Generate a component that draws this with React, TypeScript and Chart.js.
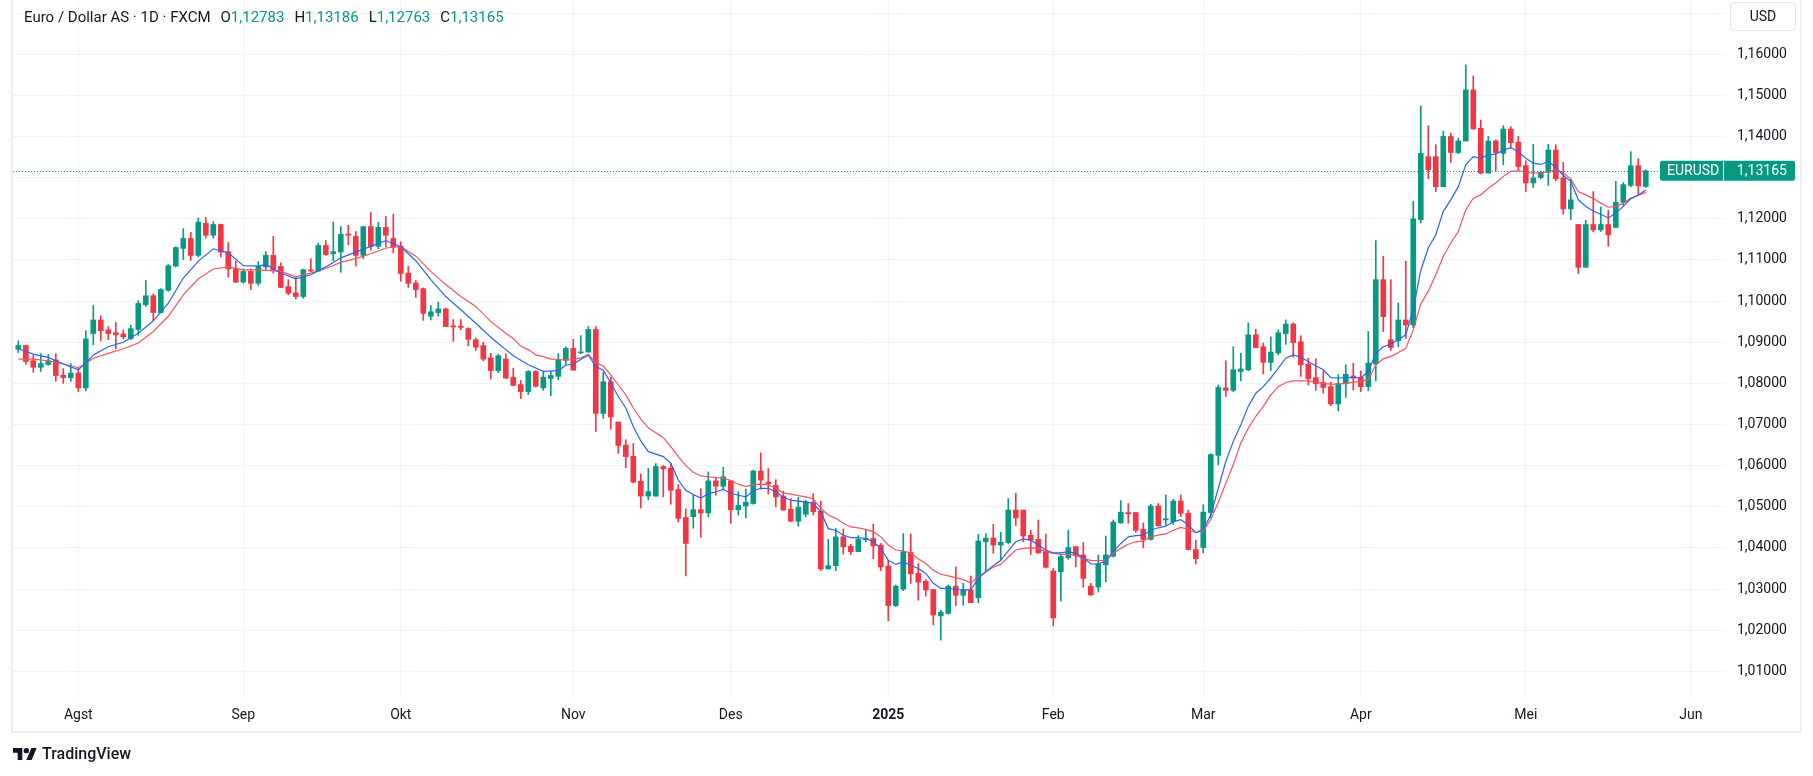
import React, { useEffect, useRef } from "react";
import { Chart, registerables } from "chart.js";

Chart.register(...registerables);

// ---- Data (daily candles, 22 Jul 2024 .. 23 May 2025, index 0..217) ----
const opens = [
  1.0883,1.0892,1.0855,1.0839,1.0846,1.0857,1.0820,1.0814,1.0825,1.0789,
  1.0921,1.0954,1.0930,1.0923,1.0920,1.0909,1.0931,1.0991,1.1013,1.0972,
  1.1026,1.1085,1.1128,1.1152,1.1111,1.1189,1.1160,1.1186,1.1120,1.1078,
  1.1046,1.1072,1.1043,1.1083,1.1111,1.1084,1.1035,1.1020,1.1011,1.1076,
  1.1073,1.1135,1.1115,1.1119,1.1163,1.1157,1.1111,1.1181,1.1133,1.1179,
  1.1152,1.1133,1.1068,1.1044,1.1030,1.0963,1.0972,1.0981,1.0940,1.0939,
  1.0933,1.0906,1.0892,1.0862,1.0831,1.0859,1.0815,1.0797,1.0780,1.0829,
  1.0789,1.0812,1.0817,1.0856,1.0885,1.0874,1.0876,1.0931,1.0727,1.0804,
  1.0706,1.0650,1.0623,1.0562,1.0526,1.0526,1.0598,1.0594,1.0542,1.0474,
  1.0476,1.0493,1.0485,1.0563,1.0550,1.0563,1.0493,1.0502,1.0508,1.0587,
  1.0560,1.0552,1.0526,1.0494,1.0465,1.0482,1.0511,1.0489,1.0349,1.0357,
  1.0427,1.0404,1.0391,1.0420,1.0423,1.0407,1.0356,1.0260,1.0300,1.0389,
  1.0338,1.0319,1.0299,1.0235,1.0241,1.0307,1.0285,1.0298,1.0279,1.0415,
  1.0424,1.0407,1.0413,1.0492,1.0492,1.0431,1.0421,1.0391,1.0344,1.0342,
  1.0376,1.0403,1.0383,1.0307,1.0305,1.0359,1.0380,1.0461,1.0486,1.0486,
  1.0445,1.0421,1.0502,1.0468,1.0464,1.0514,1.0484,1.0396,1.0401,1.0486,
  1.0625,1.0789,1.0783,1.0829,1.0833,1.0918,1.0889,1.0851,1.0874,1.0921,
  1.0944,1.0901,1.0847,1.0814,1.0802,1.0792,1.0750,1.0799,1.0818,1.0815,
  1.0792,1.0847,1.1052,1.0906,1.0904,1.0954,1.0942,1.1198,1.1351,1.1351,
  1.1278,1.1400,1.1361,1.1389,1.1513,1.1420,1.1311,1.1389,1.1359,1.1418,
  1.1386,1.1329,1.1287,1.1300,1.1313,1.1367,1.1299,1.1224,1.1186,1.1082,
  1.1186,1.1173,1.1186,1.1179,1.1240,1.1281,1.1329,1.12783,
];
const highs = [
  1.0903,1.0893,1.0868,1.0872,1.0870,1.0872,1.0836,1.0848,1.0836,1.0928,
  1.0989,1.0964,1.0938,1.0948,1.0930,1.0941,1.1001,1.1050,1.1017,1.1030,
  1.1089,1.1132,1.1176,1.1167,1.1202,1.1203,1.1193,1.1187,1.1142,1.1097,
  1.1078,1.1078,1.1096,1.1120,1.1157,1.1093,1.1052,1.1058,1.1077,1.1103,
  1.1141,1.1147,1.1192,1.1181,1.1184,1.1169,1.1181,1.1215,1.1191,1.1206,
  1.1211,1.1144,1.1084,1.1050,1.1032,1.0989,1.0998,1.0983,1.0955,1.0955,
  1.0935,1.0910,1.0900,1.0873,1.0871,1.0872,1.0837,1.0807,1.0831,1.0831,
  1.0829,1.0829,1.0872,1.0889,1.0907,1.0916,1.0938,1.0938,1.0827,1.0815,
  1.0706,1.0663,1.0654,1.0580,1.0593,1.0605,1.0600,1.0605,1.0554,1.0495,
  1.0529,1.0544,1.0585,1.0571,1.0596,1.0563,1.0536,1.0543,1.0589,1.0631,
  1.0593,1.0566,1.0538,1.0520,1.0523,1.0516,1.0532,1.0514,1.0421,1.0447,
  1.0446,1.0409,1.0430,1.0443,1.0458,1.0411,1.0370,1.0310,1.0435,1.0434,
  1.0362,1.0323,1.0299,1.0249,1.0310,1.0354,1.0314,1.0332,1.0433,1.0435,
  1.0457,1.0438,1.0520,1.0533,1.0492,1.0443,1.0468,1.0434,1.0350,1.0385,
  1.0443,1.0404,1.0413,1.0314,1.0383,1.0429,1.0468,1.0515,1.0508,1.0487,
  1.0461,1.0506,1.0508,1.0529,1.0518,1.0529,1.0492,1.0419,1.0505,1.0629,
  1.0796,1.0855,1.0889,1.0873,1.0947,1.0932,1.0898,1.0913,1.0930,1.0954,
  1.0947,1.0916,1.0861,1.0860,1.0829,1.0803,1.0821,1.0845,1.0849,1.0830,
  1.0926,1.1147,1.1109,1.1052,1.0995,1.1097,1.1242,1.1474,1.1426,1.1380,
  1.1413,1.1408,1.1396,1.1574,1.1547,1.1440,1.1400,1.1392,1.1426,1.1424,
  1.1400,1.1341,1.1381,1.1316,1.1381,1.1380,1.1337,1.1296,1.1186,1.1196,
  1.1266,1.1229,1.1220,1.1291,1.1288,1.1363,1.1346,1.13186,
];
const lows = [
  1.0875,1.0846,1.0827,1.0829,1.0844,1.0805,1.0800,1.0805,1.0780,1.0782,
  1.0894,1.0903,1.0906,1.0884,1.0908,1.0906,1.0917,1.0987,1.0953,1.0971,
  1.1024,1.1083,1.1101,1.1099,1.1107,1.1153,1.1153,1.1107,1.1058,1.1045,
  1.1044,1.1028,1.1038,1.1076,1.1068,1.1033,1.1015,1.1005,1.1007,1.1071,
  1.1071,1.1111,1.1098,1.1070,1.1137,1.1085,1.1103,1.1124,1.1127,1.1132,
  1.1117,1.1048,1.1033,1.1009,1.0953,1.0954,1.0963,1.0938,1.0902,1.0930,
  1.0891,1.0880,1.0855,1.0811,1.0826,1.0811,1.0794,1.0763,1.0773,1.0791,
  1.0783,1.0770,1.0809,1.0846,1.0832,1.0872,1.0876,1.0683,1.0715,1.0689,
  1.0630,1.0595,1.0558,1.0497,1.0517,1.0526,1.0524,1.0506,1.0463,1.0332,
  1.0448,1.0426,1.0475,1.0528,1.0542,1.0460,1.0480,1.0473,1.0506,1.0543,
  1.0531,1.0500,1.0492,1.0464,1.0453,1.0476,1.0480,1.0345,1.0349,1.0345,
  1.0385,1.0384,1.0391,1.0415,1.0374,1.0345,1.0223,1.0257,1.0296,1.0314,
  1.0273,1.0283,1.0213,1.0176,1.0239,1.0260,1.0261,1.0267,1.0267,1.0342,
  1.0387,1.0370,1.0411,1.0454,1.0415,1.0384,1.0387,1.0351,1.0211,1.0271,
  1.0372,1.0354,1.0305,1.0284,1.0293,1.0318,1.0378,1.0460,1.0460,1.0438,
  1.0400,1.0419,1.0453,1.0456,1.0457,1.0476,1.0395,1.0361,1.0388,1.0473,
  1.0602,1.0768,1.0780,1.0806,1.0831,1.0887,1.0823,1.0831,1.0869,1.0895,
  1.0864,1.0817,1.0796,1.0783,1.0776,1.0746,1.0733,1.0766,1.0784,1.0780,
  1.0782,1.0806,1.0926,1.0880,1.0889,1.0909,1.0935,1.1190,1.1297,1.1266,
  1.1278,1.1337,1.1358,1.1389,1.1418,1.1309,1.1311,1.1315,1.1331,1.1371,
  1.1319,1.1266,1.1276,1.1297,1.1281,1.1292,1.1211,1.1198,1.1067,1.1082,
  1.1168,1.1169,1.1133,1.1179,1.1232,1.1278,1.1258,1.12763,
];
const closes = [
  1.0892,1.0853,1.0839,1.0848,1.0855,1.0819,1.0814,1.0825,1.0789,1.0908,
  1.0954,1.0928,1.0921,1.0918,1.0913,1.0933,1.0994,1.1013,1.0972,1.1028,
  1.1086,1.1130,1.1152,1.1111,1.1192,1.1160,1.1186,1.1119,1.1078,1.1046,
  1.1072,1.1043,1.1084,1.1111,1.1076,1.1033,1.1019,1.1011,1.1076,1.1073,
  1.1135,1.1113,1.1120,1.1162,1.1160,1.1111,1.1181,1.1133,1.1179,1.1160,
  1.1132,1.1067,1.1043,1.1028,1.0970,1.0974,1.0981,1.0938,1.0937,1.0936,
  1.0907,1.0888,1.0859,1.0831,1.0867,1.0813,1.0795,1.0780,1.0829,1.0793,
  1.0815,1.0819,1.0858,1.0885,1.0832,1.0876,1.0931,1.0727,1.0804,1.0718,
  1.0649,1.0622,1.0560,1.0526,1.0537,1.0598,1.0592,1.0540,1.0472,1.0411,
  1.0493,1.0485,1.0563,1.0550,1.0573,1.0493,1.0503,1.0511,1.0587,1.0565,
  1.0556,1.0524,1.0492,1.0465,1.0499,1.0512,1.0488,1.0349,1.0357,1.0427,
  1.0403,1.0391,1.0421,1.0423,1.0405,1.0354,1.0260,1.0307,1.0391,1.0337,
  1.0317,1.0298,1.0237,1.0244,1.0307,1.0285,1.0298,1.0267,1.0417,1.0424,
  1.0407,1.0414,1.0492,1.0473,1.0429,1.0419,1.0388,1.0353,1.0230,1.0379,
  1.0401,1.0381,1.0326,1.0286,1.0361,1.0383,1.0463,1.0487,1.0483,1.0443,
  1.0421,1.0502,1.0454,1.0471,1.0514,1.0484,1.0396,1.0374,1.0487,1.0627,
  1.0790,1.0783,1.0833,1.0835,1.0918,1.0887,1.0851,1.0876,1.0923,1.0944,
  1.0899,1.0845,1.0811,1.0799,1.0790,1.0750,1.0800,1.0822,1.0813,1.0792,
  1.0849,1.1052,1.0962,1.0887,1.0954,1.0942,1.1200,1.1359,1.1319,1.1278,
  1.1400,1.1361,1.1389,1.1513,1.1418,1.1311,1.1389,1.1361,1.1418,1.1385,
  1.1327,1.1287,1.1299,1.1313,1.1367,1.1297,1.1224,1.1246,1.1082,1.1186,
  1.1173,1.1186,1.1161,1.1240,1.1283,1.1329,1.1280,1.13165,
];
// Moving averages (null = not read, line spans the gap)
const maFast = [
  1.0884,null,1.0871,null,1.0863,null,1.0847,null,1.0833,1.0849,
  1.0869,null,1.0889,null,1.0900,null,1.0922,null,1.0952,null,
  1.0995,null,1.1056,null,1.1097,null,1.1127,null,1.1117,null,
  1.1086,null,1.1085,1.1089,null,1.1068,null,1.1054,null,1.1064,
  null,1.1083,null,1.1105,null,1.1119,null,1.1133,null,1.1147,
  null,1.1132,null,1.1098,null,1.1052,null,1.1011,null,1.0979,
  null,1.0946,null,1.0912,1.0897,1.0882,1.0867,null,1.0845,null,
  1.0829,null,1.0831,1.0844,1.0847,1.0858,1.0869,1.0841,1.0832,1.0801,
  1.0768,1.0740,1.0695,1.0660,1.0634,1.0628,1.0622,1.0606,1.0565,1.0540,
  1.0530,1.0521,1.0532,1.0536,1.0542,1.0533,1.0528,1.0524,1.0539,1.0545,
  1.0545,1.0536,1.0523,1.0516,1.0514,1.0512,1.0508,1.0488,1.0447,1.0443,
  1.0431,1.0425,1.0425,1.0423,1.0415,1.0399,1.0370,1.0360,1.0366,1.0358,
  1.0350,1.0338,1.0314,1.0302,1.0302,1.0299,1.0298,1.0298,1.0326,1.0342,
  1.0357,1.0370,1.0393,1.0415,1.0422,1.0419,1.0407,1.0395,1.0388,1.0388,
  1.0391,1.0387,1.0376,1.0361,1.0361,1.0368,1.0391,1.0411,1.0427,1.0430,
  1.0431,1.0443,1.0449,1.0453,1.0464,1.0469,1.0456,1.0437,1.0446,1.0480,
  1.0545,1.0610,1.0659,1.0699,1.0744,1.0776,1.0792,1.0813,1.0837,1.0861,
  1.0869,1.0864,1.0853,1.0843,1.0833,1.0814,1.0813,1.0814,1.0814,1.0813,
  1.0829,1.0873,1.0889,1.0895,1.0906,1.0918,1.0980,1.1075,1.1129,1.1161,
  1.1218,1.1246,1.1278,1.1331,1.1351,1.1347,1.1355,1.1357,1.1367,1.1373,
  1.1363,1.1347,1.1335,1.1332,1.1339,1.1325,1.1305,1.1291,1.1246,1.1230,
  1.1219,1.1211,1.1202,1.1214,1.1230,1.1249,1.1257,1.1270,
];
const maSlow = [
  1.0859,null,1.0859,null,1.0855,null,1.0847,null,1.0838,1.0849,
  1.0861,null,1.0873,null,1.0884,null,1.0898,null,1.0926,null,
  1.0963,null,1.1015,null,1.1054,null,1.1078,null,1.1083,null,
  1.1076,null,1.1076,null,null,1.1072,null,1.1059,null,1.1068,
  null,1.1079,null,1.1094,null,1.1103,null,1.1115,null,1.1129,
  null,1.1132,null,1.1109,null,1.1072,null,1.1040,null,1.1011,
  null,1.0987,null,1.0950,null,1.0922,1.0909,1.0890,1.0882,1.0869,
  1.0865,1.0859,1.0858,1.0857,1.0858,1.0862,1.0870,1.0850,1.0842,1.0820,
  1.0796,1.0772,1.0740,1.0713,1.0692,1.0680,1.0668,1.0646,1.0622,1.0600,
  1.0584,1.0575,1.0573,1.0571,1.0570,1.0564,1.0555,1.0549,1.0554,1.0555,
  1.0553,1.0545,1.0534,1.0531,1.0527,1.0524,1.0519,1.0496,1.0480,1.0472,
  1.0460,1.0451,1.0449,1.0445,1.0439,1.0427,1.0407,1.0395,1.0393,1.0387,
  1.0374,1.0362,1.0346,1.0336,1.0332,1.0328,1.0323,1.0315,1.0330,1.0342,
  1.0353,1.0360,1.0378,1.0395,1.0399,1.0400,1.0399,1.0391,1.0387,1.0385,
  1.0384,1.0383,1.0374,1.0370,1.0369,1.0370,1.0387,1.0399,1.0409,1.0415,
  1.0417,1.0427,1.0431,1.0434,1.0443,1.0450,1.0445,1.0437,1.0442,1.0469,
  1.0511,1.0557,1.0602,1.0655,1.0691,1.0720,1.0744,1.0772,1.0792,1.0802,
  1.0806,1.0806,1.0806,1.0803,1.0800,1.0798,1.0798,1.0800,1.0803,1.0805,
  1.0809,1.0845,1.0860,1.0865,1.0875,1.0885,1.0930,1.0993,1.1024,1.1064,
  1.1109,1.1141,1.1169,1.1222,1.1250,1.1258,1.1274,1.1287,1.1303,1.1315,
  1.1317,1.1313,1.1311,1.1311,1.1315,1.1319,1.1311,1.1297,1.1266,1.1258,
  1.1249,1.1238,1.1228,1.1230,1.1238,1.1250,1.1257,1.1264,
];
const monthTickIdx = [8, 30, 51, 74, 95, 116, 138, 158, 179, 201, 223];
const monthLabels = ["Agst", "Sep", "Okt", "Nov", "Des", "2025", "Feb", "Mar", "Apr", "Mei", "Jun"];
const priceTicks = [1.01, 1.02, 1.03, 1.04, 1.05, 1.06, 1.07, 1.08, 1.09, 1.10, 1.11, 1.12, 1.13, 1.14, 1.15, 1.16, 1.17];
const hiddenPriceTicks = [1.13, 1.17];
const symbolName = "EURUSD";
const titleText = "Euro / Dollar AS · 1D · FXCM";
const currencyText = "USD";

// ---- Styling ----
const W = 1813;
const H = 776;
const UP = "#089981";
const DOWN = "#f23645";
const GRID = "#f0f3fa";
const TEXT = "#131722";
const FONT = "Roboto";

const fmt = (v: number) => v.toFixed(5).replace(".", ",");

const overlayPlugin = {
  id: "tvOverlay",
  afterDatasetsDraw(chart: any) {
    const { ctx, chartArea, scales } = chart;
    const last = closes[closes.length - 1];
    const y = Math.round(scales.y.getPixelForValue(last)) + 0.5;
    ctx.save();
    ctx.strokeStyle = UP;
    ctx.lineWidth = 1;
    ctx.setLineDash([1, 2]);
    ctx.beginPath();
    ctx.moveTo(chartArea.left, y);
    ctx.lineTo(1660, y);
    ctx.stroke();
    ctx.restore();
  },
  afterDraw(chart: any) {
    const { ctx, scales } = chart;
    const last = closes[closes.length - 1];
    const yc = scales.y.getPixelForValue(last);
    ctx.save();
    // frame
    ctx.strokeStyle = "#eceef2";
    ctx.lineWidth = 2;
    ctx.beginPath();
    ctx.moveTo(12, 0);
    ctx.lineTo(12, 732);
    ctx.lineTo(1801, 732);
    ctx.lineTo(1801, 0);
    ctx.stroke();
    // symbol label
    ctx.fillStyle = UP;
    ctx.beginPath();
    ctx.roundRect(1660, yc - 10, 63, 20, [2, 0, 0, 2]);
    ctx.fill();
    ctx.beginPath();
    ctx.roundRect(1724, yc - 10, 71, 20, [0, 2, 2, 0]);
    ctx.fill();
    ctx.fillStyle = "#ffffff";
    ctx.font = `14px ${FONT}`;
    ctx.textBaseline = "middle";
    ctx.textAlign = "left";
    ctx.fillText(symbolName, 1667, yc + 0.5);
    ctx.fillText(fmt(last), 1737, yc + 0.5);
    // currency box
    ctx.fillStyle = "#ffffff";
    ctx.strokeStyle = "#e0e3eb";
    ctx.lineWidth = 1;
    ctx.beginPath();
    ctx.roundRect(1730.5, 2.5, 65, 28, 4);
    ctx.fill();
    ctx.stroke();
    ctx.fillStyle = TEXT;
    ctx.textAlign = "center";
    ctx.fillText(currencyText, 1763, 17);
    ctx.restore();
  },
};

export default function App() {
  const canvasRef = useRef<HTMLCanvasElement | null>(null);

  useEffect(() => {
    document.body.style.margin = "0";
    const canvas = canvasRef.current;
    if (!canvas) return;
    Chart.defaults.font.family = FONT;
    const colors = opens.map((o, i) => (closes[i] >= o ? UP : DOWN));
    const chart = new Chart(canvas, {
      type: "bar",
      data: {
        datasets: [
          {
            type: "line",
            label: "MA fast",
            data: maFast.map((v, i) => ({ x: i, y: v })),
            borderColor: "#2962ff",
            borderWidth: 1.2,
            pointRadius: 0,
            spanGaps: true,
            tension: 0,
            order: 0,
          } as any,
          {
            type: "line",
            label: "MA slow",
            data: maSlow.map((v, i) => ({ x: i, y: v })),
            borderColor: "#f7525f",
            borderWidth: 1.2,
            pointRadius: 0,
            spanGaps: true,
            tension: 0,
            order: 1,
          } as any,
          {
            type: "bar",
            label: "wick",
            data: highs.map((h, i) => ({ x: i, y: [lows[i], h] })),
            backgroundColor: colors,
            borderWidth: 0,
            barThickness: 1,
            grouped: false,
            order: 3,
          } as any,
          {
            type: "bar",
            label: "body",
            data: opens.map((o, i) => ({ x: i, y: [Math.min(o, closes[i]), Math.max(o, closes[i])] })),
            backgroundColor: colors,
            borderWidth: 0,
            barThickness: 5,
            minBarLength: 1,
            grouped: false,
            order: 2,
          } as any,
        ],
      },
      options: {
        responsive: false,
        animation: false,
        events: [],
        layout: { padding: { left: 13, right: 0, top: 0, bottom: 0 } },
        plugins: { legend: { display: false }, tooltip: { enabled: false } },
        scales: {
          x: {
            type: "linear",
            min: -0.707,
            max: 227.43,
            offset: false,
            grid: { color: GRID, drawTicks: false, tickLength: 0, offset: false },
            border: { display: false },
            afterBuildTicks: (s: any) => {
              s.ticks = monthTickIdx.map((v) => ({ value: v }));
            },
            afterFit: (s: any) => {
              s.height = 79;
              s.paddingLeft = 0;
              s.paddingRight = 0;
            },
            ticks: {
              autoSkip: false,
              maxRotation: 0,
              padding: 10,
              color: TEXT,
              font: (c: any) => ({ family: FONT, size: 14, weight: c.index === 5 ? "bold" : "normal" }),
              callback: (v: any) => {
                const k = monthTickIdx.indexOf(Number(v));
                return k >= 0 ? monthLabels[k] : "";
              },
            },
          },
          y: {
            type: "linear",
            position: "right",
            min: 1.00378,
            max: 1.17316,
            grid: { color: GRID, drawTicks: false, tickLength: 0 },
            border: { display: false },
            afterBuildTicks: (s: any) => {
              s.ticks = priceTicks.map((v) => ({ value: v }));
            },
            afterFit: (s: any) => {
              s.width = 89;
              s.paddingTop = 0;
              s.paddingBottom = 0;
            },
            ticks: {
              padding: 13,
              color: TEXT,
              font: { family: FONT, size: 14 },
              callback: (v: any) => {
                const n = Number(v);
                if (hiddenPriceTicks.some((h) => Math.abs(h - n) < 1e-6)) return "";
                return fmt(n);
              },
            },
          },
        },
      } as any,
      plugins: [overlayPlugin as any],
    });
    return () => chart.destroy();
  }, []);

  const last = opens.length - 1;
  const ohlc = [
    ["O", opens[last]],
    ["H", highs[last]],
    ["L", lows[last]],
    ["C", closes[last]],
  ] as [string, number][];

  return (
    <div style={{ position: "absolute", left: 0, top: 0, width: W, height: H, background: "#fff", overflow: "hidden" }}>
      <canvas ref={canvasRef} width={W} height={H} style={{ position: "absolute", left: 0, top: 0, width: W, height: H }} />
      <div
        style={{
          position: "absolute",
          left: 24,
          top: 7,
          height: 20,
          lineHeight: "20px",
          fontFamily: FONT,
          fontSize: 15,
          color: TEXT,
          whiteSpace: "nowrap",
        }}
      >
        <span>{titleText}</span>
        {ohlc.map(([k, v]) => (
          <span key={k} style={{ marginLeft: 10 }}>
            {k}
            <span style={{ color: UP }}>{fmt(v)}</span>
          </span>
        ))}
      </div>
      <div style={{ position: "absolute", left: 13, top: 744, height: 20, display: "flex", alignItems: "center" }}>
        <svg width="24" height="12" viewBox="0 4 36 18" style={{ display: "block" }}>
          <path d="M14 22H7V11H0V4h14v18zM28 22h-8l7.5-18h8L28 22z" fill={TEXT} />
          <circle cx="20" cy="8" r="4" fill={TEXT} />
        </svg>
        <span style={{ marginLeft: 5, fontFamily: FONT, fontSize: 16, fontWeight: 500, color: TEXT, lineHeight: "20px" }}>
          TradingView
        </span>
      </div>
    </div>
  );
}
